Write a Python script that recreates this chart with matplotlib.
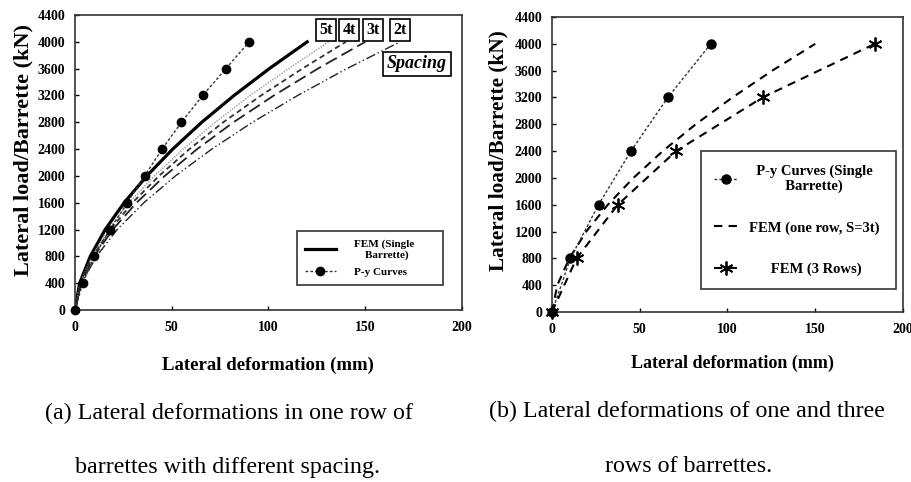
import matplotlib.pyplot as plt

plt.rcParams['font.family'] = ['Liberation Serif', 'DejaVu Serif']

# loads shared by the FEM curves (kN)
loads = [0, 400, 800, 1200, 1600, 2000, 2400, 2800, 3200, 3600, 4000]

# panel (a): deformation (mm) at each load level
fem_single = [0, 2.4, 7.9, 15.6, 25.4, 37.1, 50.5, 65.5, 82.2, 100.4, 120]
fem_5t = [0, 2.6, 8.7, 17.2, 28.0, 41.0, 56.0, 72.5, 90.5, 110.5, 131]
fem_4t = [0, 2.8, 9.2, 18.3, 29.7, 43.4, 59.1, 76.6, 96.2, 117.5, 140]
fem_3t = [0, 3.0, 9.9, 19.5, 31.8, 46.4, 63.1, 81.9, 102.8, 125.5, 150]
fem_2t = [0, 3.4, 11.1, 21.8, 35.6, 51.9, 70.7, 91.7, 115.1, 140.5, 168]

py_x = [0, 4, 10, 18, 27, 36, 45, 55, 66, 78, 90]
py_load = [0, 400, 800, 1200, 1600, 2000, 2400, 2800, 3200, 3600, 4000]

# panel (b)
py_b_x = [0, 10.5, 26.5, 45, 66, 90.5]
py_b_load = [0, 800, 1600, 2400, 3200, 4000]
rows3_x = [0, 14, 37.5, 70.7, 120, 184]
rows3_load = [0, 800, 1600, 2400, 3200, 4000]

spacing_labels = ['5t', '4t', '3t', '2t']
spacing_pos = [326, 349, 373, 400]

fig = plt.figure(figsize=(9.12, 4.82), dpi=100)
ax1 = fig.add_axes([75 / 912, 1 - 310 / 482, 387 / 912, 295 / 482])
ax2 = fig.add_axes([552 / 912, 1 - 312 / 482, 351 / 912, 295 / 482])

# panel (a)
ax1.plot(fem_single, loads, color='black', lw=2.3, label='FEM (Single\n    Barrette)')
ax1.plot(fem_5t, loads, color='#999999', lw=1.0, ls=(0, (1, 1)))
ax1.plot(fem_4t, loads, color='#333333', lw=1.3, ls=(0, (3, 2)))
ax1.plot(fem_3t, loads, color='#222222', lw=1.3, ls=(0, (7, 3)))
ax1.plot(fem_2t, loads, color='#222222', lw=1.0, ls=(0, (7, 2, 1, 2, 1, 2)))
ax1.plot(py_x, py_load, color='#333333', lw=1.0, ls=(0, (2, 1.5)),
         marker='o', ms=6, mfc='black', mec='black', label='P-y Curves',
         clip_on=False, zorder=5)

for lab, px in zip(spacing_labels, spacing_pos):
    fig.text(px / 912, 1 - 30 / 482, lab, ha='center', va='center',
             fontsize=11.5, fontweight='bold',
             bbox=dict(boxstyle='square,pad=0.2', fc='white', ec='black', lw=1.2))
fig.text(417 / 912, 1 - 64 / 482, 'Spacing', ha='center', va='center',
         fontsize=13, fontweight='bold', style='italic',
         bbox=dict(boxstyle='square,pad=0.2', fc='white', ec='black', lw=1.2))

leg1 = ax1.legend(loc='lower left', bbox_to_anchor=(0.574, 0.085, 0.377, 0.2),
                  mode='expand', borderaxespad=0, prop=dict(weight='bold', size=8),
                  frameon=True, fancybox=False, handlelength=2.8,
                  handletextpad=1.6, borderpad=0.7, labelspacing=0.7)
leg1.get_frame().set_edgecolor('black')
leg1.get_frame().set_linewidth(1.2)

# panel (b)
ax2.plot(py_b_x, py_b_load, color='#333333', lw=1.0, ls=(0, (2, 1.5)),
         marker='o', ms=6.5, mfc='black', mec='black',
         label='  P-y Curves (Single\n          Barrette)', clip_on=False, zorder=5)
ax2.plot(fem_3t, loads, color='black', lw=1.5, ls=(0, (4, 3)),
         label='FEM (one row, S=3t)')
ax2.plot(rows3_x, rows3_load, color='black', lw=1.5, ls=(0, (4, 3)),
         marker=(6, 2, 0), ms=10, mew=1.3, label='      FEM (3 Rows)',
         clip_on=False, zorder=5)

leg2 = ax2.legend(loc='lower left', bbox_to_anchor=(0.425, 0.078, 0.556, 0.4),
                  mode='expand', borderaxespad=0, prop=dict(weight='bold', size=10.5),
                  frameon=True, fancybox=False, handlelength=1.6,
                  handletextpad=0.8, borderpad=0.9, labelspacing=1.9)
leg2.get_frame().set_edgecolor('black')
leg2.get_frame().set_linewidth(1.2)

for ax in (ax1, ax2):
    ax.set_xlim(0, 200)
    ax.set_ylim(0, 4400)
    ax.set_xticks([0, 50, 100, 150, 200])
    ax.set_yticks(range(0, 4401, 400))
    ax.tick_params(direction='in', length=3, width=1, labelsize=10)
    ax.tick_params(axis='x', pad=8)
    ax.tick_params(axis='y', pad=7)
    for t in ax.get_xticklabels() + ax.get_yticklabels():
        t.set_fontweight('bold')
    for s in ax.spines.values():
        s.set_linewidth(1.2)
        s.set_color('#333333')

ax1.set_ylabel('Lateral load/Barrette (kN)', fontsize=16, fontweight='bold')
ax1.yaxis.set_label_coords(-0.108, 0.542)
ax1.set_xlabel('Lateral deformation (mm)', fontsize=13.5, fontweight='bold')
ax1.xaxis.set_label_coords(0.498, -0.158)

ax2.set_ylabel('Lateral load/Barrette (kN)', fontsize=15.3, fontweight='bold')
ax2.yaxis.set_label_coords(-0.125, 0.546)
ax2.set_xlabel('Lateral deformation (mm)', fontsize=13, fontweight='bold')
ax2.xaxis.set_label_coords(0.515, -0.145)

fig.text(229 / 912, 1 - 413 / 482, '(a) Lateral deformations in one row of',
         ha='center', va='center', fontsize=17.3)
fig.text(228 / 912, 1 - 468 / 482, 'barrettes with different spacing.',
         ha='center', va='center', fontsize=17.3)
fig.text(687 / 912, 1 - 411 / 482, '(b) Lateral deformations of one and three',
         ha='center', va='center', fontsize=17.3)
fig.text(689 / 912, 1 - 467 / 482, 'rows of barrettes.',
         ha='center', va='center', fontsize=17.3)

fig.savefig('out.png', dpi=100)
